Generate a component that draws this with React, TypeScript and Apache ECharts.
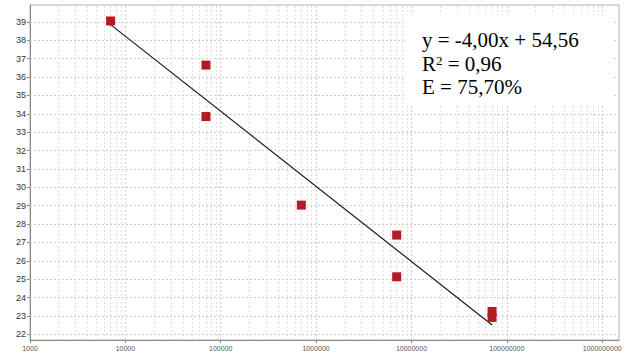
import { useEffect, useRef } from 'react';
import * as echarts from 'echarts';

// Standard curve: template copies (log axis) against Ct
const copies = [7000, 70000, 70000, 700000, 7000000, 7000000, 70000000, 70000000];
const ctValues = [39.05, 36.65, 33.85, 29.03, 27.4, 25.13, 23.24, 22.92];

// Fit summary
const slopeText = '-4,00';
const intercept = 54.56;
const r2Text = '0,96';
const efficiency = 0.757; // 75,70 %

// Axis ticks and grid positions
const yTicks = [22, 23, 24, 25, 26, 27, 28, 29, 30, 31, 32, 33, 34, 35, 36, 37, 38, 39];
const xDecades = [1000, 10000, 100000, 1000000, 10000000, 100000000, 1000000000];
const minorSteps = [2, 3, 4, 5, 6, 7, 8, 9];

const trendX = [copies[0], copies[copies.length - 1]];

export default function App() {
  const ref = useRef<HTMLDivElement>(null);

  useEffect(() => {
    if (!ref.current) return;
    const chart = echarts.init(ref.current, undefined, { renderer: 'svg' });

    // slope implied by the amplification efficiency: E = 10^(-1/slope) - 1
    const slope = -1 / Math.log10(1 + efficiency);
    const trendData = trendX.map((x) => [x, intercept + slope * Math.log10(x)]);

    const majorStyle = { color: '#cdcdcd', type: [2, 2] as number[], width: 1 };
    const minorStyle = { color: '#e0e0e0', type: [2, 2] as number[], width: 1 };

    const lines: any[] = [];
    yTicks.forEach((v) => lines.push({ yAxis: v, lineStyle: majorStyle }));
    xDecades.forEach((d, i) => {
      if (i > 0) lines.push({ xAxis: d, lineStyle: majorStyle });
      if (i < xDecades.length - 1)
        minorSteps.forEach((m) => lines.push({ xAxis: d * m, lineStyle: minorStyle }));
    });

    const serif = '"Liberation Serif", "Times New Roman", serif';

    chart.setOption({
      animation: false,
      backgroundColor: '#fff',
      grid: {
        left: 30,
        right: 10,
        top: 5,
        bottom: 16,
        show: true,
        borderColor: '#b0b0b0',
        borderWidth: 1,
        backgroundColor: '#fff',
        containLabel: false,
        outerBoundsMode: 'none',
      },
      xAxis: {
        type: 'log',
        logBase: 10,
        min: 1000,
        max: 1500000000,
        axisLine: { show: true, lineStyle: { color: '#8a8a8a', width: 1 } },
        axisTick: { show: true, length: 3, lineStyle: { color: '#8a8a8a' } },
        axisLabel: {
          fontSize: 7,
          color: '#555',
          fontFamily: '"Liberation Sans", Arial, sans-serif',
          margin: 5,
          showMaxLabel: false,
          formatter: (v: number) => String(Math.round(v)),
        },
        splitLine: { show: false },
        minorSplitLine: { show: false },
      },
      yAxis: {
        type: 'value',
        min: 21.69,
        max: 39.92,
        axisLine: { show: true, lineStyle: { color: '#8a8a8a', width: 1 } },
        axisTick: { show: true, length: 3, customValues: yTicks, lineStyle: { color: '#8a8a8a' } },
        axisLabel: {
          customValues: yTicks,
          fontSize: 9,
          color: '#333',
          fontFamily: '"Liberation Sans", Arial, sans-serif',
          margin: 4,
        },
        splitLine: { show: false },
      },
      series: [
        {
          name: 'grid',
          type: 'line',
          data: [],
          silent: true,
          z: 1,
          markLine: {
            silent: true,
            z: 1,
            symbol: ['none', 'none'],
            label: { show: false },
            emphasis: { disabled: true },
            animation: false,
            data: lines,
          },
        },
        {
          name: 'trend',
          type: 'line',
          data: trendData,
          symbol: 'none',
          silent: true,
          z: 3,
          lineStyle: { color: '#1a1a1a', width: 1.2 },
        },
        {
          name: 'standards',
          type: 'scatter',
          data: copies.map((c, i) => [c, ctValues[i]]),
          symbol: 'rect',
          symbolSize: 9,
          z: 4,
          itemStyle: { color: '#b31b24', opacity: 1 },
        },
      ],
      graphic: [
        {
          type: 'rect',
          z: 10,
          shape: { x: 405, y: 15, width: 207, height: 91 },
          style: { fill: '#fff' },
        },
        {
          type: 'text',
          z: 11,
          x: 422,
          y: 40,
          style: {
            text: `y = ${slopeText}x + ${intercept.toFixed(2).replace('.', ',')}`,
            font: `21px ${serif}`,
            fill: '#000',
            verticalAlign: 'middle',
          },
        },
        {
          type: 'text',
          z: 11,
          x: 422,
          y: 64,
          style: {
            text: `{r|R}{s|2}{r| = ${r2Text}}`,
            verticalAlign: 'middle',
            rich: {
              r: { fontSize: 21, fontFamily: serif, lineHeight: 21, fill: '#000' },
              s: { fontSize: 13, fontFamily: serif, lineHeight: 13, verticalAlign: 'top', fill: '#000' },
            },
          },
        },
        {
          type: 'text',
          z: 11,
          x: 422,
          y: 87,
          style: {
            text: `E = ${(efficiency * 100).toFixed(2).replace('.', ',')}%`,
            font: `21px ${serif}`,
            fill: '#000',
            verticalAlign: 'middle',
          },
        },
      ],
    });

    return () => chart.dispose();
  }, []);

  return (
    <div
      ref={ref}
      style={{ position: 'fixed', left: 0, top: 0, width: 629, height: 356, background: '#fff' }}
    />
  );
}
